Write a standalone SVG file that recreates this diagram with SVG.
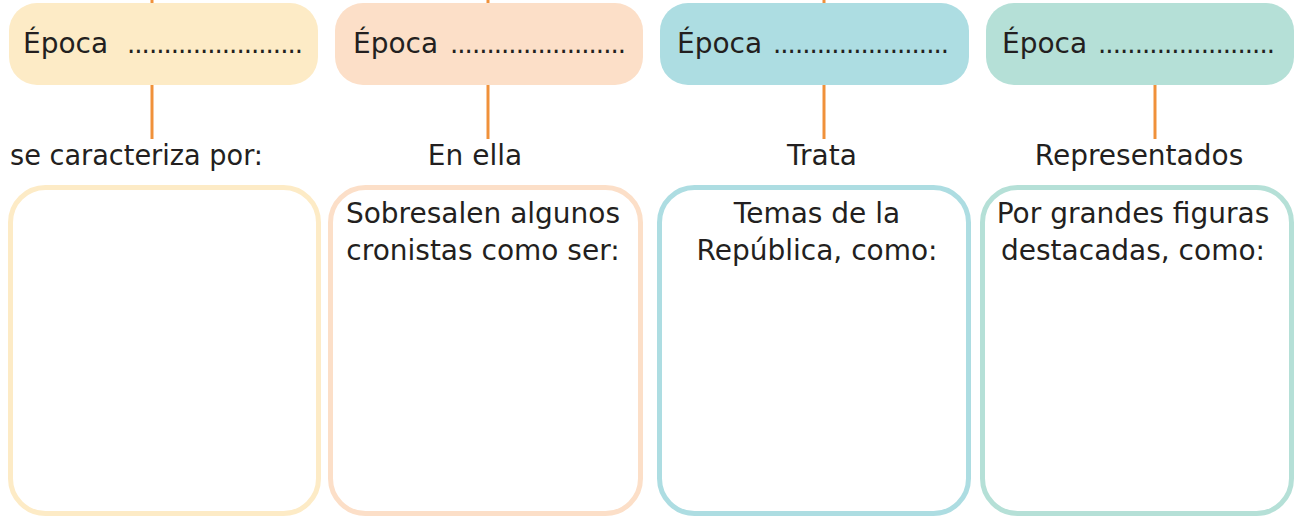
<svg xmlns="http://www.w3.org/2000/svg" width="1295" height="517" viewBox="0 0 1295 517">
<style>
text{font-family:"DejaVu Sans","Liberation Sans",sans-serif;font-size:28px;fill:#231f20}
.c{text-anchor:middle}
.d{font-size:26px}
.conn{stroke:#f0913a;stroke-width:3;fill:none}
.box{fill:#fff;stroke-width:5}
</style>
<rect width="1295" height="517" fill="#fff"/>
<g id="connectors">
<line class="conn" x1="152" y1="0" x2="152" y2="4"/>
<line class="conn" x1="488" y1="0" x2="488" y2="4"/>
<line class="conn" x1="824" y1="0" x2="824" y2="4"/>
<line class="conn" x1="152" y1="84" x2="152" y2="139"/>
<line class="conn" x1="488" y1="84" x2="488" y2="139"/>
<line class="conn" x1="824" y1="84" x2="824" y2="139"/>
<line class="conn" x1="1155" y1="84" x2="1155" y2="139"/>
</g>
<g id="epoca1">
<rect x="9" y="3" width="309" height="82" rx="28" fill="#fdebc6"/>
<text x="23" y="53">Época</text>
<text class="d" x="127" y="53" textLength="176" lengthAdjust="spacing">........................</text>
</g>
<g id="epoca2">
<rect x="335" y="3" width="308" height="82" rx="28" fill="#fcdfc8"/>
<text x="353" y="53">Época</text>
<text class="d" x="450" y="53" textLength="176" lengthAdjust="spacing">........................</text>
</g>
<g id="epoca3">
<rect x="660" y="3" width="309" height="82" rx="28" fill="#addde2"/>
<text x="677" y="53">Época</text>
<text class="d" x="773" y="53" textLength="176" lengthAdjust="spacing">........................</text>
</g>
<g id="epoca4">
<rect x="986" y="3" width="308" height="82" rx="28" fill="#b5e0d7"/>
<text x="1002" y="53">Época</text>
<text class="d" x="1098" y="53" textLength="177" lengthAdjust="spacing">........................</text>
</g>
<g id="label1"><text x="10" y="165" textLength="253" lengthAdjust="spacingAndGlyphs">se caracteriza por:</text></g>
<g id="label2"><text class="c" x="475" y="165">En ella</text></g>
<g id="label3"><text class="c" x="822" y="165">Trata</text></g>
<g id="label4"><text class="c" x="1139" y="165">Representados</text></g>
<g id="box1">
<rect class="box" x="10.5" y="187.5" width="308" height="326" rx="35" stroke="#fdebc6"/>
</g>
<g id="box2">
<rect class="box" x="330.5" y="187.5" width="310" height="326" rx="35" stroke="#fcdfc8"/>
<text class="c" x="483" y="223">Sobresalen algunos</text>
<text class="c" x="483" y="260">cronistas como ser:</text>
</g>
<g id="box3">
<rect class="box" x="659.5" y="187.5" width="309" height="326" rx="35" stroke="#addde2"/>
<text class="c" x="817" y="223">Temas de la</text>
<text class="c" x="817" y="260">República, como:</text>
</g>
<g id="box4">
<rect class="box" x="982.5" y="187.5" width="309" height="326" rx="35" stroke="#b5e0d7"/>
<text class="c" x="1133" y="223">Por grandes figuras</text>
<text class="c" x="1133" y="260">destacadas, como:</text>
</g>
</svg>
